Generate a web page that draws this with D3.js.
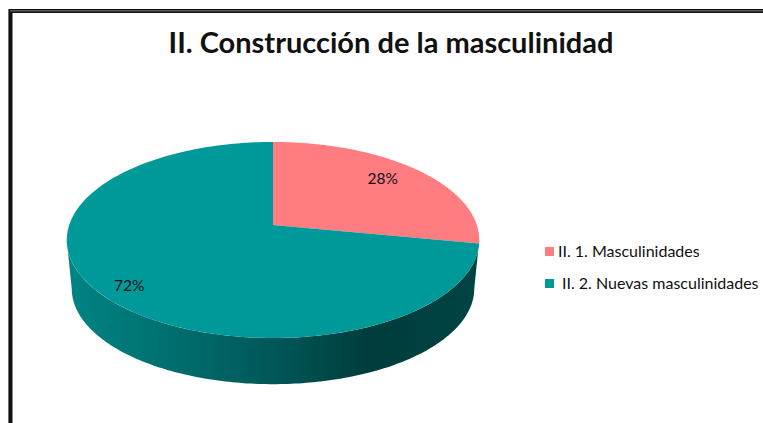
<!DOCTYPE html>
<html><head><meta charset="utf-8">
<script src="https://cdn.jsdelivr.net/npm/d3@7"></script>
<style>html,body{margin:0;padding:0;background:#fff;overflow:hidden}svg{display:block}text{font-family:Lato,"Open Sans",sans-serif;fill:#111}</style>
</head><body><svg id="c" width="763" height="423"></svg>
<script>
const title = "II. Construcción de la masculinidad";
const categories = ["II. 1. Masculinidades", "II. 2. Nuevas masculinidades"];
const values = [28, 72];
const colors = ["#ff7c80", "#009999"];

const svg = d3.select("#c");
const W = 763, H = 423;
const cx = 273, cy = 225, midY = 240, lowerMidY = 288.5;
const pA = 61.3, pC = -0.153, pD = 203.8, shrink = 0.976;

function project(theta, r = 1) {
  const u = Math.sin(theta) * r, v = -Math.cos(theta) * r, w = 1 + pC * v;
  return [cx + pD * u / w, (cy + pA * v) / w];
}
const lower = p => [cx + (p[0] - cx) * shrink, lowerMidY + (p[1] - midY) * shrink];
const line = d3.line();
const arcPts = (a0, a1, n = 180) => d3.range(n + 1).map(i => project(a0 + (a1 - a0) * i / n));

// frame
svg.append("path").attr("d", `M8.5 ${H}V9.5H${W}`).attr("fill", "none").attr("stroke", "#c8c8c8").attr("stroke-width", 1);
svg.append("path").attr("d", `M10.5 ${H}V11H${W}`).attr("fill", "none").attr("stroke", "#111").attr("stroke-width", 4);
svg.append("path").attr("d", `M10 10.8H${W}`).attr("fill", "none").attr("stroke", "#6a6a6a").attr("stroke-width", 1.2);

svg.append("text").attr("x", 391).attr("y", 53).attr("text-anchor", "middle")
  .attr("font-size", 29).attr("font-weight", 700).attr("fill", "#000").text(title);

// side wall
const grad = svg.append("defs").append("linearGradient").attr("id", "wall").attr("gradientUnits", "userSpaceOnUse")
  .attr("x1", 67).attr("x2", 479).attr("y1", 0).attr("y2", 0);
[[0, "#008484"], [0.25, "#006f6f"], [0.55, "#005252"], [0.74, "#003c3c"], [1, "#004444"]]
  .forEach(([o, c]) => grad.append("stop").attr("offset", o).attr("stop-color", c));

const thetaR = Math.PI * 0.549, thetaL = Math.PI * 1.451;
const front = arcPts(thetaR, thetaL);
svg.append("path").attr("d", line(front.concat(front.map(lower).reverse())) + "Z").attr("fill", "url(#wall)");

// top slices
const pie = d3.pie().sort(null).value(d => d);
const slices = pie(values);
svg.selectAll("path.slice").data(slices).join("path").attr("class", "slice")
  .attr("fill", (d, i) => colors[i])
  .attr("d", d => line([project(0, 0)].concat(arcPts(d.startAngle, d.endAngle))) + "Z");

// percent labels
const labelR = [0.75, 0.84], labelDy = [2, 10];
svg.selectAll("text.pct").data(slices).join("text").attr("class", "pct")
  .attr("text-anchor", "middle").attr("font-size", 15.5)
  .attr("x", (d, i) => project((d.startAngle + d.endAngle) / 2, labelR[i])[0])
  .attr("y", (d, i) => project((d.startAngle + d.endAngle) / 2, labelR[i])[1] + labelDy[i])
  .text(d => d3.format(".0%")(d.value / d3.sum(values)));

// legend
const legendY = d3.scalePoint().domain(categories).range([252, 284]);
const textX = [558, 562];
const lg = svg.selectAll("g.lg").data(categories).join("g").attr("class", "lg");
lg.append("rect").attr("x", 545).attr("y", d => legendY(d) - 5).attr("width", 9).attr("height", 9)
  .attr("fill", (d, i) => colors[i]);
lg.append("text").attr("x", (d, i) => textX[i]).attr("y", d => legendY(d) + 5)
  .attr("font-size", 16).text(d => d);
</script></body></html>
